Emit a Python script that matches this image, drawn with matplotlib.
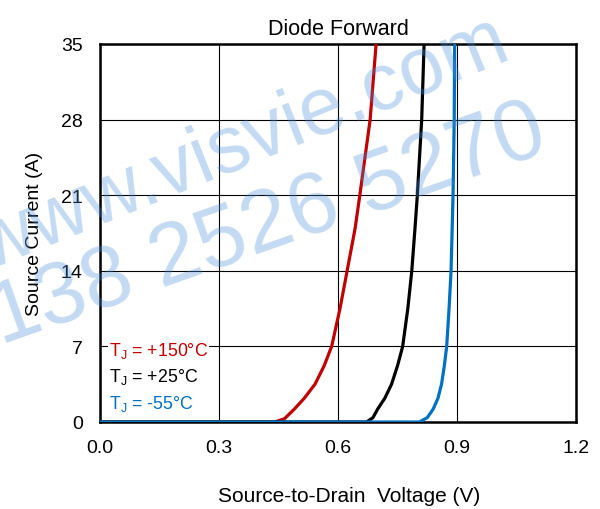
#!/usr/bin/env python3
"""Diode forward characteristic, three junction temperatures."""
import matplotlib
matplotlib.use('Agg')
import matplotlib.pyplot as plt

plt.rcParams['font.family'] = ['Liberation Sans', 'DejaVu Sans']
plt.rcParams['mathtext.fontset'] = 'custom'
plt.rcParams['mathtext.rm'] = 'Liberation Sans'

v_150 = [0.0, 0.44, 0.465, 0.49, 0.515, 0.542, 0.565, 0.584, 0.605, 0.623, 0.643, 0.655, 0.681, 0.696]
i_150 = [0.0, 0.0, 0.3, 1.2, 2.2, 3.5, 5.2, 7.0, 10.5, 14.0, 17.9, 21.0, 28.0, 35.0]
v_25 = [0.0, 0.672, 0.688, 0.70, 0.718, 0.735, 0.75, 0.763, 0.776, 0.786, 0.794, 0.80, 0.811, 0.817]
i_25 = [0.0, 0.0, 0.4, 1.2, 2.2, 3.5, 5.2, 7.0, 10.5, 14.0, 17.9, 21.0, 28.0, 35.0]
v_m55 = [0.0, 0.805, 0.825, 0.84, 0.852, 0.861, 0.868, 0.874, 0.88, 0.885, 0.89, 0.893, 0.894]
i_m55 = [0.0, 0.0, 0.4, 1.2, 2.2, 3.5, 5.2, 7.0, 10.5, 14.0, 21.0, 28.0, 35.0]

x_ticks = [0.0, 0.3, 0.6, 0.9, 1.2]
y_ticks = [0, 7, 14, 21, 28, 35]
labels = ['T$_\\mathregular{J}$ = +150°C', 'T$_\\mathregular{J}$ = +25°C', 'T$_\\mathregular{J}$ = -55°C']
colors = ['#C00000', '#000000', '#0070C0']

fig = plt.figure(figsize=(6.0, 5.1), dpi=100)
ax = fig.add_axes([0.1667, 0.1706, 0.7933, 0.7412])

ax.plot(v_150, i_150, color=colors[0], linewidth=2.3, zorder=3)
ax.plot(v_25, i_25, color=colors[1], linewidth=2.3, zorder=3)
ax.plot(v_m55, i_m55, color=colors[2], linewidth=2.3, zorder=4)

ax.set_xlim(0, 1.2)
ax.set_ylim(0, 35)
ax.set_xticks(x_ticks)
ax.set_xticklabels([f'{t:.1f}' for t in x_ticks])
ax.set_yticks(y_ticks)
ax.grid(True, color='black', linewidth=0.8)
ax.set_axisbelow(True)
ax.tick_params(length=0, pad=12.5, labelsize=14)
for s in ax.spines.values():
    s.set_linewidth(1.8)

ax.set_title('Diode Forward', fontsize=15.5, pad=7)
ax.set_xlabel('Source-to-Drain  Voltage (V)', fontsize=15)
ax.xaxis.set_label_coords(0.523, -0.168)
ax.set_ylabel('Source Current (A)', fontsize=14, labelpad=13)

for k, (lab, c) in enumerate(zip(labels, colors)):
    ax.text(0.022, 6.7 - k * 2.47, lab, color=c, fontsize=12.8, va='center', ha='left',
            zorder=5, bbox=dict(facecolor='white', edgecolor='none', pad=0.5))

# watermark
fig.text(242 / 600, 1 - 145 / 510, 'www.visvie.com', fontsize=58, color='#4A90D9', alpha=0.33,
         rotation=22, ha='center', va='center', zorder=10)
fig.text(268 / 600, 1 - 226 / 510, '138 2526 5270', fontsize=63, color='#4A90D9', alpha=0.33,
         rotation=19.5, ha='center', va='center', zorder=10)

plt.savefig('out.png', dpi=100)
plt.close()
